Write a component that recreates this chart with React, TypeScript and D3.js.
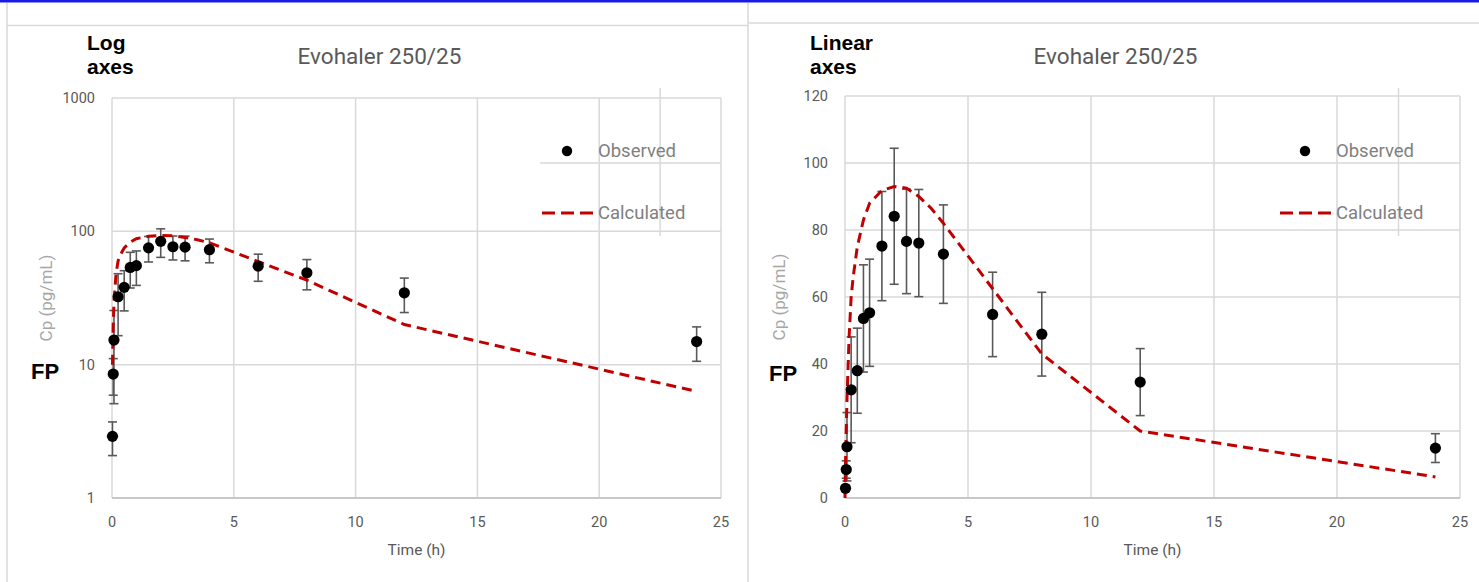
import React from "react";
import * as d3 from "d3";

// observed FP plasma concentrations (mean, sd) and model prediction
const timeObs = [0.02, 0.05, 0.08, 0.25, 0.5, 0.75, 1, 1.5, 2, 2.5, 3, 4, 6, 8, 12, 24];
const cpObs = [2.9, 8.5, 15.3, 32.3, 38, 53.6, 55.3, 75.2, 84.1, 76.6, 76.1, 72.8, 54.8, 48.9, 34.6, 14.9];
const cpSd = [0.82, 2.6, 10.2, 15.8, 12.7, 16, 16, 16.3, 20.3, 15.6, 16, 14.7, 12.6, 12.5, 10, 4.3];

const timeCalc = [0, 0.02, 0.05, 0.083, 0.167, 0.25, 0.333, 0.5, 0.75, 1, 1.5, 2, 2.5, 3, 3.5, 4, 8, 12, 24];
const cpCalc = [0, 10, 20, 30, 48, 60, 66, 75, 83, 88, 91.8, 93, 92.5, 90, 86.5, 82, 43, 20, 6.3];

const xTicks = [0, 5, 10, 15, 20, 25];
const logTicks = [1, 10, 100, 1000];
const linTicks = [0, 20, 40, 60, 80, 100, 120];

const chartTitle = "Evohaler 250/25";
const xTitle = "Time (h)";
const yTitle = "Cp (pg/mL)";

const GRID = "#d9d9d9";
const TEXT = "#595959";
const RED = "#c00000";
const FONT = "Roboto, 'Noto Sans', sans-serif";
const BOLD = "'Liberation Sans', Arial, sans-serif";

interface PanelProps {
  kind: "log" | "linear";
  left: number;
  right: number;
  top: number;
  bottom: number;
  label: string[];
  labelX: number;
  fpX: number;
  fpY: number;
  legendX: number;
}

function Panel({ kind, left, right, top, bottom, label, labelX, fpX, fpY, legendX }: PanelProps) {
  const x = d3.scaleLinear().domain([0, 25]).range([left, right]);
  const y =
    kind === "log"
      ? d3.scaleLog().domain([1, 1000]).range([bottom, top])
      : d3.scaleLinear().domain([0, 120]).range([bottom, top]);
  const yTicks = kind === "log" ? logTicks : linTicks;

  const calc = timeCalc.map((t, i) => [t, cpCalc[i]] as [number, number]);
  const line = d3
    .line<[number, number]>()
    .defined((d) => kind === "linear" || d[1] > 0)
    .x((d) => x(d[0]))
    .y((d) => y(d[1]));

  const cx = (left + right) / 2;
  const cy = (top + bottom) / 2;
  const cap = 4.5;

  return (
    <g>
      {/* grid */}
      {xTicks.map((t) => (
        <line key={"gx" + t} x1={x(t)} x2={x(t)} y1={top} y2={bottom} stroke={GRID} strokeWidth={1.5} />
      ))}
      {yTicks.map((t) => (
        <line key={"gy" + t} x1={left} x2={right} y1={y(t)} y2={y(t)} stroke={GRID} strokeWidth={1.5} />
      ))}
      <line x1={left} x2={right} y1={bottom} y2={bottom} stroke="#bfbfbf" strokeWidth={1.5} />

      {/* legend box leftovers */}
      <line x1={x(22.5)} x2={x(22.5)} y1={88} y2={236} stroke={GRID} strokeWidth={1.5} />
      {kind === "log" && (
        <line x1={legendX - 2} x2={right} y1={163} y2={163} stroke={GRID} strokeWidth={1.5} />
      )}

      {/* tick labels */}
      {yTicks.map((t) => (
        <text key={"ly" + t} x={left - 17} y={y(t)} dy="0.35em" textAnchor="end" fontSize={14.5} fill={TEXT} fontFamily={FONT}>
          {t}
        </text>
      ))}
      {xTicks.map((t) => (
        <text key={"lx" + t} x={x(t)} y={522} dy="0.35em" textAnchor="middle" fontSize={14.5} fill={TEXT} fontFamily={FONT}>
          {t}
        </text>
      ))}

      <text x={cx} y={550} dy="0.35em" textAnchor="middle" fontSize={15.5} fill={TEXT} fontFamily={FONT}>
        {xTitle}
      </text>
      <text
        transform={`translate(${left - 66},${cy}) rotate(-90)`}
        textAnchor="middle"
        dy="0.35em"
        fontSize={17}
        fill="#a6a6a6"
        fontFamily={FONT}
      >
        {yTitle}
      </text>
      <text x={cx - 37} y={64} textAnchor="middle" fontSize={22.5} fill={TEXT} fontFamily={FONT}>
        {chartTitle}
      </text>

      {/* annotations */}
      <text x={labelX} y={50} fontSize={21} fontWeight="bold" fill="#000" fontFamily={BOLD}>
        {label[0]}
      </text>
      <text x={labelX} y={74} fontSize={21} fontWeight="bold" fill="#000" fontFamily={BOLD}>
        {label[1]}
      </text>
      <text x={fpX} y={fpY} fontSize={22} fontWeight="bold" fill="#000" fontFamily={BOLD}>
        FP
      </text>

      {/* error bars */}
      {timeObs.map((t, i) => {
        const lo = y(cpObs[i] - cpSd[i]);
        const hi = y(cpObs[i] + cpSd[i]);
        const px = x(t);
        return (
          <g key={"e" + i} stroke="#595959" strokeWidth={1.6}>
            <line x1={px} x2={px} y1={lo} y2={hi} />
            <line x1={px - cap} x2={px + cap} y1={lo} y2={lo} />
            <line x1={px - cap} x2={px + cap} y1={hi} y2={hi} />
          </g>
        );
      })}

      {/* calculated curve */}
      <path d={line(calc) || ""} fill="none" stroke={RED} strokeWidth={3} strokeDasharray="10,6" />

      {/* observed */}
      {timeObs.map((t, i) => (
        <circle key={"o" + i} cx={x(t)} cy={y(cpObs[i])} r={5.6} fill="#000" />
      ))}

      {/* legend */}
      <circle cx={legendX + 25} cy={151} r={5.2} fill="#000" />
      <text x={legendX + 56} y={151} dy="0.35em" fontSize={18.5} fill="#7f7f7f" fontFamily={FONT}>
        Observed
      </text>
      <line x1={legendX} x2={legendX + 51} y1={213} y2={213} stroke={RED} strokeWidth={3} strokeDasharray="13,6" />
      <text x={legendX + 56} y={213} dy="0.35em" fontSize={18.5} fill="#7f7f7f" fontFamily={FONT}>
        Calculated
      </text>
    </g>
  );
}

export default function App() {
  return (
    <svg
      width={1479}
      height={582}
      style={{ position: "absolute", left: 0, top: 0, background: "#fff" }}
    >
      <rect x={0} y={0} width={1479} height={2.5} fill="#1a1ae6" />
      {/* panel frames */}
      <line x1={7} x2={7} y1={3} y2={582} stroke={GRID} strokeWidth={1.5} />
      <line x1={7} x2={748} y1={25.5} y2={25.5} stroke={GRID} strokeWidth={1.5} />
      <line x1={748} x2={748} y1={3} y2={582} stroke={GRID} strokeWidth={1.5} />
      <line x1={749} x2={1479} y1={23} y2={23} stroke={GRID} strokeWidth={1.5} />

      <Panel
        kind="log"
        left={112}
        right={721}
        top={98}
        bottom={498}
        label={["Log", "axes"]}
        labelX={87}
        fpX={31}
        fpY={379}
        legendX={542}
      />
      <Panel
        kind="linear"
        left={845}
        right={1460}
        top={96}
        bottom={498}
        label={["Linear", "axes"]}
        labelX={810}
        fpX={769}
        fpY={381}
        legendX={1280}
      />
    </svg>
  );
}
